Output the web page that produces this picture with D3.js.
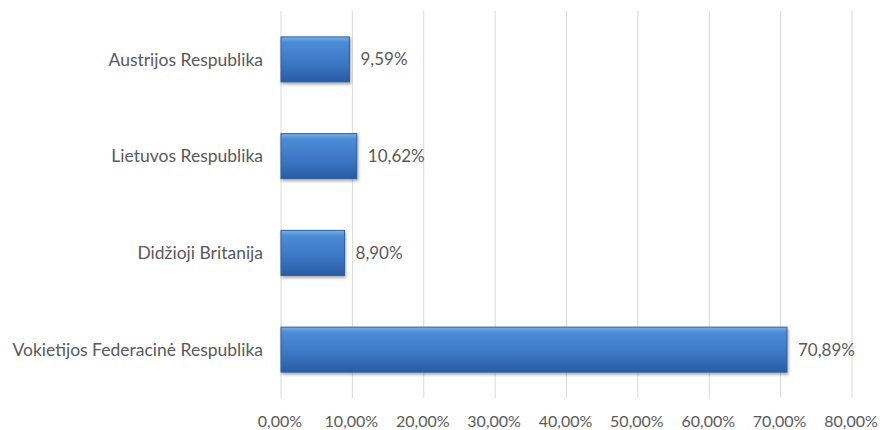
<!DOCTYPE html>
<html><head><meta charset="utf-8">
<script src="https://cdn.jsdelivr.net/npm/d3@7"></script>
<style>body{margin:0;background:#fff}svg{display:block}text{font-family:Lato,"Open Sans",sans-serif;fill:#595959}</style>
</head><body>
<svg id="c" width="888" height="430"></svg>
<script>
const categories = ["Austrijos Respublika","Lietuvos Respublika","Didžioji Britanija","Vokietijos Federacinė Respublika"];
const values = [9.59, 10.62, 8.90, 70.89];
const valueLabels = ["9,59%","10,62%","8,90%","70,89%"];
const ticks = [0,10,20,30,40,50,60,70,80];
const tickLabels = ["0,00%","10,00%","20,00%","30,00%","40,00%","50,00%","60,00%","70,00%","80,00%"];

const svg = d3.select("#c");
const m = {l:281, r:852, t:11, b:398};
const x = d3.scaleLinear().domain([0,80]).range([m.l, m.r]);
const y = d3.scaleBand().domain(categories).range([m.t, m.b]).paddingInner(0.535).paddingOuter(0.2675);

const defs = svg.append("defs");
const g = defs.append("linearGradient").attr("id","bg").attr("x1",0).attr("y1",0).attr("x2",0).attr("y2",1);
g.append("stop").attr("offset","0").attr("stop-color","#79b0ea");
g.append("stop").attr("offset","0.12").attr("stop-color","#4d8bd6");
g.append("stop").attr("offset","0.6").attr("stop-color","#3b76c4");
g.append("stop").attr("offset","1").attr("stop-color","#2a5ca3");
const f = defs.append("filter").attr("id","sh").attr("x","-5%").attr("y","-20%").attr("width","110%").attr("height","150%");
f.append("feDropShadow").attr("dx",1).attr("dy",2).attr("stdDeviation",1.5).attr("flood-color","#000").attr("flood-opacity",0.35);

// gridlines
svg.append("g").selectAll("line").data(ticks).join("line")
  .attr("x1",d=>x(d)).attr("x2",d=>x(d)).attr("y1",m.t).attr("y2",m.b)
  .attr("stroke","#d9d9d9").attr("stroke-width",1);

// tick labels
svg.append("g").selectAll("text").data(ticks).join("text")
  .attr("x",d=>x(d)-1).attr("y",427).attr("text-anchor","middle").style("font-size","16px")
  .text((d,i)=>tickLabels[i]);

// bars
svg.append("g").selectAll("rect").data(values).join("rect")
  .attr("x",x(0)).attr("y",(d,i)=>y(categories[i]))
  .attr("width",d=>x(d)-x(0)).attr("height",y.bandwidth())
  .attr("fill","url(#bg)").attr("stroke","#2d5f9e").attr("stroke-width",1)
  .attr("filter","url(#sh)");

// category labels
svg.append("g").selectAll("text").data(categories).join("text")
  .attr("x",263).attr("y",d=>y(d)+y.bandwidth()/2).attr("dy","0.35em")
  .attr("text-anchor","end").style("font-size","17.5px").text(d=>d);

// value labels
svg.append("g").selectAll("text").data(values).join("text")
  .attr("x",d=>x(d)+11).attr("y",(d,i)=>y(categories[i])+y.bandwidth()/2).attr("dy","0.35em")
  .style("font-size","17px")
  .text((d,i)=>valueLabels[i]);
</script>
</body></html>
